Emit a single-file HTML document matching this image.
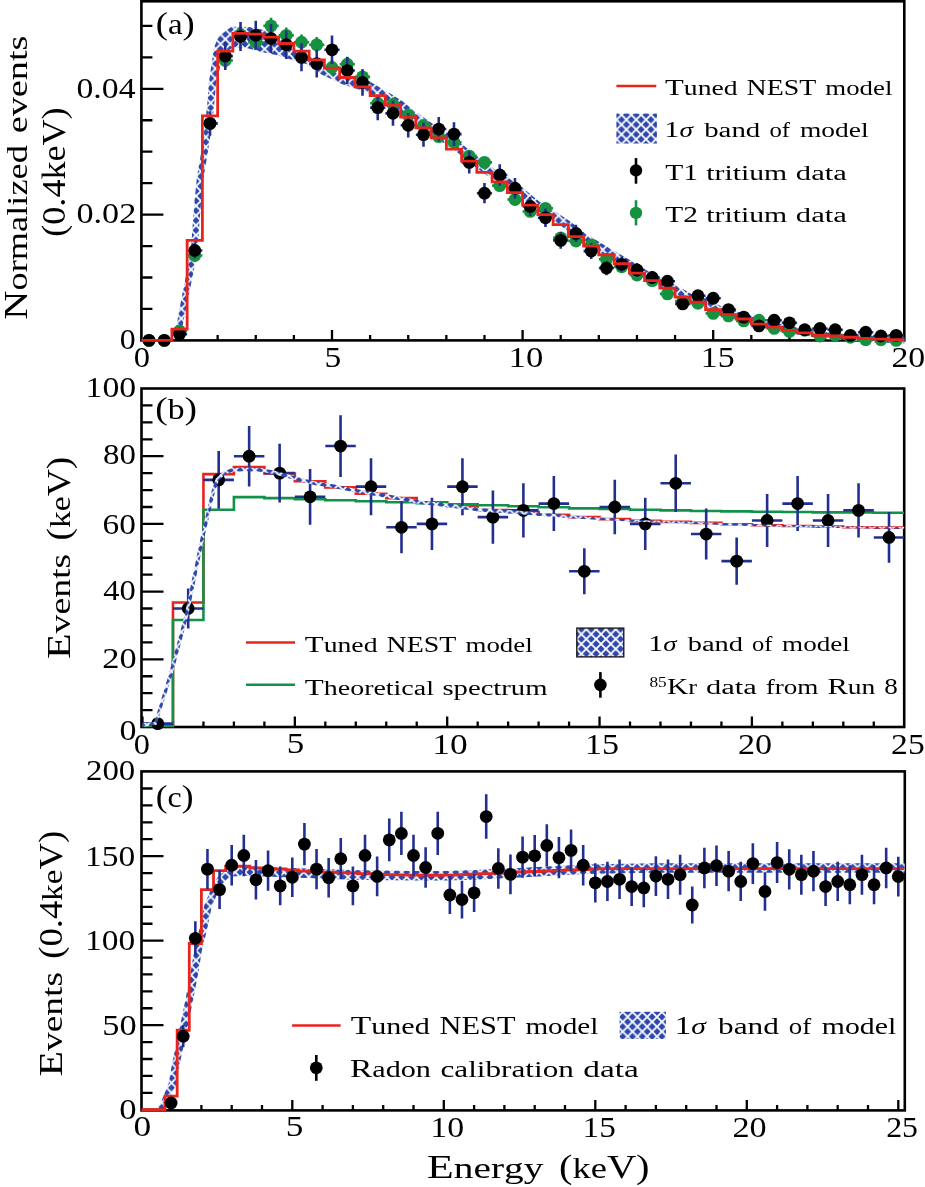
<!DOCTYPE html><html><head><meta charset="utf-8"><style>html,body{margin:0;padding:0;background:#fff;}svg{display:block;}text{font-family:"Liberation Serif", serif;font-kerning:none;fill:#000;}svg{will-change:transform;}</style></head><body>
<svg width="925" height="1187" viewBox="0 0 925 1187">
<defs>
<pattern id="hatch" patternUnits="userSpaceOnUse" width="9.8" height="9.8"><rect width="9.8" height="9.8" fill="#2d47ad"/><path d="M-4.9,-4.9 L14.7,14.7 M-4.9,14.7 L14.7,-4.9" stroke="#fff" stroke-width="1.8"/></pattern>
<pattern id="hatchA" patternUnits="userSpaceOnUse" width="9.8" height="9.8" patternTransform="translate(4.10,7.00)"><rect width="9.8" height="9.8" fill="#2d47ad"/><path d="M-4.9,-4.9 L14.7,14.7 M-4.9,14.7 L14.7,-4.9" stroke="#fff" stroke-width="1.8"/></pattern>
<pattern id="hatchB" patternUnits="userSpaceOnUse" width="9.8" height="9.8" patternTransform="translate(8.10,2.10)"><rect width="9.8" height="9.8" fill="#2d47ad"/><path d="M-4.9,-4.9 L14.7,14.7 M-4.9,14.7 L14.7,-4.9" stroke="#fff" stroke-width="1.8"/></pattern>
<pattern id="hatchC" patternUnits="userSpaceOnUse" width="9.8" height="9.8" patternTransform="translate(5.30,2.60)"><rect width="9.8" height="9.8" fill="#2d47ad"/><path d="M-4.9,-4.9 L14.7,14.7 M-4.9,14.7 L14.7,-4.9" stroke="#fff" stroke-width="1.8"/></pattern>
</defs>
<rect width="925" height="1187" fill="#fff"/>
<defs>
<clipPath id="ca"><rect x="141.4" y="-6.7" width="762.9" height="355.1"/></clipPath>
<clipPath id="cb"><rect x="141.5" y="380.5" width="762.7" height="354.5"/></clipPath>
<clipPath id="cc"><rect x="141.5" y="763.4" width="763.3" height="355"/></clipPath>
</defs>
<rect x="141.4" y="1.3" width="762.9" height="339.1" fill="none" stroke="#000" stroke-width="2.6"/>
<path d="M179.52,340.4V334.9M217.64,340.4V334.9M255.76,340.4V334.9M293.88,340.4V334.9M332,340.4V329.9M370.12,340.4V334.9M408.24,340.4V334.9M446.36,340.4V334.9M484.48,340.4V334.9M522.6,340.4V329.9M560.72,340.4V334.9M598.84,340.4V334.9M636.96,340.4V334.9M675.08,340.4V334.9M713.2,340.4V329.9M751.32,340.4V334.9M789.44,340.4V334.9M827.56,340.4V334.9M865.68,340.4V334.9M141.4,308.95H152.4M141.4,277.5H152.4M141.4,246.05H152.4M141.4,214.6H163.4M141.4,183.15H152.4M141.4,151.7H152.4M141.4,120.25H152.4M141.4,88.8H163.4M141.4,57.35H152.4M141.4,25.9H152.4" stroke="#000" stroke-width="2.3" fill="none"/>
<g clip-path="url(#ca)">
<path d="M180.99,336.23 L182.37,326.72 L186.14,308.11 L190.94,284.54 L195.65,260.85 L197.98,244.14 L199.29,225.24 L201.09,201.69 L203.47,178.24 L207.46,154.82 L211.07,131.15 L213.98,107.45 L215.97,84.08 L220.38,65.71 L225.96,52.6 L231.2,48.53 L236.45,47.21 L246.61,47.91 L259.43,51.41 L274.88,54.72 L291.04,59.62 L306.29,63.98 L321.55,74.56 L341.71,83.97 L367.51,92.22 L382.11,100.63 L397.08,109.82 L412.25,121.64 L427.7,132.4 L442.92,142.38 L458.05,153.53 L473.33,165.44 L488.83,176.86 L504.16,186.28 L519.19,196.75 L534.58,209.35 L550.06,218.87 L565.14,228.75 L580.47,240.69 L596.01,250.24 L611.34,259.03 L626.57,267.75 L641.96,277.2 L657.41,284.78 L672.57,292.22 L688.09,301.09 L703.48,306.12 L718.75,313.61 L734.34,318.7 L749.6,323.05 L765,328.06 L780.47,331.2 L795.8,334.3 L811.12,336.77 L826.59,339.25 L841.98,339.83 L857.16,341.02 L872.48,342.23 L887.8,342.84 L903.31,343.47 L910.35,342.18 L909.65,336.62 L903.04,337.07 L888.06,336.44 L872.88,335.8 L857.7,334.49 L842.39,333.16 L827.28,332.49 L812.25,329.94 L797.08,327.38 L781.92,324.18 L766.88,321.03 L751.79,315.98 L736.56,311.52 L721.65,306.54 L706.42,298.94 L691.32,293.9 L676.34,285.17 L661.01,277.51 L645.96,270 L630.86,260.57 L615.58,251.68 L600.42,242.86 L585.46,233.54 L570.3,221.58 L554.88,211.33 L539.87,201.98 L524.76,189.42 L509.29,178.5 L494.13,169.05 L479.13,157.83 L463.92,145.84 L448.55,134.35 L433.28,124.2 L418.23,113.57 L402.9,101.49 L387.38,91.81 L371.48,82.61 L344.29,76.83 L325.45,68.04 L310.51,56.02 L294.96,49.78 L281.12,41.08 L266.57,30.59 L249.39,27.09 L231.55,26.79 L218.8,35.47 L214.04,47.4 L211.62,63.69 L208.83,83.12 L207.02,106.75 L204.33,130.25 L200.94,153.78 L196.93,177.36 L194.51,201.11 L192.71,224.76 L191.42,243.46 L189.15,259.75 L184.46,283.26 L179.86,306.89 L176.43,325.88 L176.01,335.77Z" fill="url(#hatch)"/>
<path d="M141.4,340.4L156.65,340.4M156.65,340.4L171.9,340.4M171.9,330.96L187.14,330.96M187.14,255.48L202.39,255.48M210.02,116.71L210.02,130.08M202.39,123.39L217.64,123.39M225.26,52.9L225.26,68.09M217.64,60.5L232.89,60.5M240.51,26.77L240.51,42.64M232.89,34.71L248.14,34.71M255.76,34.42L255.76,50.09M248.14,42.25L263.38,42.25M271.01,17.85L271.01,33.95M263.38,25.9L278.63,25.9M286.26,27.41L286.26,43.26M278.63,35.33L293.88,35.33M301.5,34.42L301.5,50.09M293.88,42.25L309.13,42.25M316.75,36.97L316.75,52.57M309.13,44.77L324.38,44.77M332,59.91L332,74.91M324.38,67.41L339.62,67.41M347.25,56.73L347.25,71.81M339.62,64.27L354.87,64.27M362.5,69.48L362.5,84.22M354.87,76.85L370.12,76.85M377.74,96.28L377.74,110.26M370.12,103.27L385.37,103.27M392.99,97.55L392.99,111.5M385.37,104.52L400.62,104.52M408.24,108.41L408.24,122.03M400.62,115.22L415.86,115.22M423.49,119.26L423.49,132.56M415.86,125.91L431.11,125.91M431.11,136.6L446.36,136.6M446.36,142.26L461.61,142.26M461.61,156.1L476.86,156.1M476.86,162.39L492.1,162.39M492.1,185.67L507.35,185.67M507.35,199.5L522.6,199.5M522.6,211.45L537.85,211.45M537.85,208.31L553.1,208.31M553.1,237.87L568.34,237.87M568.34,241.02L583.59,241.02M583.59,244.79L598.84,244.79M598.84,259.26L614.09,259.26M614.09,266.81L629.34,266.81M629.34,274.98L644.58,274.98M644.58,280.64L659.83,280.64M659.83,293.85L675.08,293.85M675.08,301.4L690.33,301.4M690.33,303.29L705.58,303.29M705.58,313.35L720.82,313.35M720.82,315.87L736.07,315.87M736.07,320.9L751.32,320.9M751.32,320.27L766.57,320.27M766.57,328.45L781.82,328.45M781.82,331.59L797.06,331.59M797.06,330.34L812.31,330.34M812.31,336L827.56,336M827.56,335.37L842.81,335.37M842.81,337.25L858.06,337.25M858.06,339.77L873.3,339.77M873.3,339.77L888.55,339.77M888.55,340.4L903.8,340.4" stroke="#15913f" stroke-width="2.6" fill="none"/>
<circle cx="149.02" cy="340.4" r="6.4" fill="#15913f"/>
<circle cx="164.27" cy="340.4" r="6.4" fill="#15913f"/>
<circle cx="179.52" cy="330.96" r="6.4" fill="#15913f"/>
<circle cx="194.77" cy="255.48" r="6.4" fill="#15913f"/>
<circle cx="210.02" cy="123.39" r="6.4" fill="#15913f"/>
<circle cx="225.26" cy="60.5" r="6.4" fill="#15913f"/>
<circle cx="240.51" cy="34.71" r="6.4" fill="#15913f"/>
<circle cx="255.76" cy="42.25" r="6.4" fill="#15913f"/>
<circle cx="271.01" cy="25.9" r="6.4" fill="#15913f"/>
<circle cx="286.26" cy="35.33" r="6.4" fill="#15913f"/>
<circle cx="301.5" cy="42.25" r="6.4" fill="#15913f"/>
<circle cx="316.75" cy="44.77" r="6.4" fill="#15913f"/>
<circle cx="332" cy="67.41" r="6.4" fill="#15913f"/>
<circle cx="347.25" cy="64.27" r="6.4" fill="#15913f"/>
<circle cx="362.5" cy="76.85" r="6.4" fill="#15913f"/>
<circle cx="377.74" cy="103.27" r="6.4" fill="#15913f"/>
<circle cx="392.99" cy="104.52" r="6.4" fill="#15913f"/>
<circle cx="408.24" cy="115.22" r="6.4" fill="#15913f"/>
<circle cx="423.49" cy="125.91" r="6.4" fill="#15913f"/>
<circle cx="438.74" cy="136.6" r="6.4" fill="#15913f"/>
<circle cx="453.98" cy="142.26" r="6.4" fill="#15913f"/>
<circle cx="469.23" cy="156.1" r="6.4" fill="#15913f"/>
<circle cx="484.48" cy="162.39" r="6.4" fill="#15913f"/>
<circle cx="499.73" cy="185.67" r="6.4" fill="#15913f"/>
<circle cx="514.98" cy="199.5" r="6.4" fill="#15913f"/>
<circle cx="530.22" cy="211.45" r="6.4" fill="#15913f"/>
<circle cx="545.47" cy="208.31" r="6.4" fill="#15913f"/>
<circle cx="560.72" cy="237.87" r="6.4" fill="#15913f"/>
<circle cx="575.97" cy="241.02" r="6.4" fill="#15913f"/>
<circle cx="591.22" cy="244.79" r="6.4" fill="#15913f"/>
<circle cx="606.46" cy="259.26" r="6.4" fill="#15913f"/>
<circle cx="621.71" cy="266.81" r="6.4" fill="#15913f"/>
<circle cx="636.96" cy="274.98" r="6.4" fill="#15913f"/>
<circle cx="652.21" cy="280.64" r="6.4" fill="#15913f"/>
<circle cx="667.46" cy="293.85" r="6.4" fill="#15913f"/>
<circle cx="682.7" cy="301.4" r="6.4" fill="#15913f"/>
<circle cx="697.95" cy="303.29" r="6.4" fill="#15913f"/>
<circle cx="713.2" cy="313.35" r="6.4" fill="#15913f"/>
<circle cx="728.45" cy="315.87" r="6.4" fill="#15913f"/>
<circle cx="743.7" cy="320.9" r="6.4" fill="#15913f"/>
<circle cx="758.94" cy="320.27" r="6.4" fill="#15913f"/>
<circle cx="774.19" cy="328.45" r="6.4" fill="#15913f"/>
<circle cx="789.44" cy="331.59" r="6.4" fill="#15913f"/>
<circle cx="804.69" cy="330.34" r="6.4" fill="#15913f"/>
<circle cx="819.94" cy="336" r="6.4" fill="#15913f"/>
<circle cx="835.18" cy="335.37" r="6.4" fill="#15913f"/>
<circle cx="850.43" cy="337.25" r="6.4" fill="#15913f"/>
<circle cx="865.68" cy="339.77" r="6.4" fill="#15913f"/>
<circle cx="880.93" cy="339.77" r="6.4" fill="#15913f"/>
<circle cx="896.18" cy="340.4" r="6.4" fill="#15913f"/>
<path d="M141.4,340.4L156.65,340.4M156.65,340.4L171.9,340.4M171.9,334.11L187.14,334.11M194.77,242.56L194.77,258.35M187.14,250.45L202.39,250.45M210.02,111.14L210.02,135.65M202.39,123.39L217.64,123.39M225.26,42.06L225.26,70.12M217.64,56.09L232.89,56.09M240.51,22.09L240.51,51.1M232.89,36.59L248.14,36.59M255.76,20.8L255.76,49.87M248.14,35.33L263.38,35.33M271.01,24.02L271.01,52.94M263.38,38.48L278.63,38.48M286.26,30.46L286.26,59.08M278.63,44.77L293.88,44.77M301.5,43.35L301.5,71.35M293.88,57.35L309.13,57.35M316.75,49.8L316.75,77.48M309.13,63.64L324.38,63.64M332,35.62L332,63.99M324.38,49.8L339.62,49.8M347.25,56.89L347.25,84.23M339.62,70.56L354.87,70.56M362.5,69.15L362.5,95.87M354.87,82.51L370.12,82.51M377.74,94.97L377.74,120.37M370.12,107.67L385.37,107.67M392.99,100.79L392.99,125.87M385.37,113.33L400.62,113.33M408.24,113.08L408.24,137.49M400.62,125.28L415.86,125.28M423.49,122.78L423.49,146.65M415.86,134.72L431.11,134.72M438.74,116.96L438.74,141.15M431.11,129.06L446.36,129.06M453.98,122.13L453.98,146.04M446.36,134.09L461.61,134.09M469.23,151.29L469.23,173.5M461.61,162.39L476.86,162.39M484.48,183.12L484.48,203.31M476.86,193.21L492.1,193.21M499.73,164.27L499.73,185.68M492.1,174.97L507.35,174.97M514.98,177.91L514.98,198.45M507.35,188.18L522.6,188.18M530.22,196.79L530.22,216.06M522.6,206.42L537.85,206.42M545.47,208.53L545.47,226.96M537.85,217.74L553.1,217.74M560.72,232.07L560.72,248.71M553.1,240.39L568.34,240.39M575.97,224.86L575.97,242.08M568.34,233.47L583.59,233.47M591.22,243.22L591.22,258.95M583.59,251.08L598.84,251.08M606.46,260.99L606.46,275.14M598.84,268.06L614.09,268.06M621.71,257.03L621.71,271.55M614.09,264.29L629.34,264.29M636.96,262.97L636.96,276.94M629.34,269.95L644.58,269.95M652.21,270.9L652.21,284.1M644.58,277.5L659.83,277.5M659.83,281.27L675.08,281.27M675.08,303.92L690.33,303.92M690.33,295.74L705.58,295.74M705.58,298.26L720.82,298.26M720.82,309.58L736.07,309.58M736.07,317.13L751.32,317.13M751.32,325.93L766.57,325.93M766.57,320.27L781.82,320.27M781.82,322.79L797.06,322.79M797.06,329.71L812.31,329.71M812.31,328.45L827.56,328.45M827.56,329.71L842.81,329.71M842.81,335.37L858.06,335.37M858.06,332.22L873.3,332.22M873.3,336L888.55,336M888.55,335.37L903.8,335.37" stroke="#232f8e" stroke-width="2.6" fill="none"/>
<circle cx="149.02" cy="340.4" r="6.4" fill="#000"/>
<circle cx="164.27" cy="340.4" r="6.4" fill="#000"/>
<circle cx="179.52" cy="334.11" r="6.4" fill="#000"/>
<circle cx="194.77" cy="250.45" r="6.4" fill="#000"/>
<circle cx="210.02" cy="123.39" r="6.4" fill="#000"/>
<circle cx="225.26" cy="56.09" r="6.4" fill="#000"/>
<circle cx="240.51" cy="36.59" r="6.4" fill="#000"/>
<circle cx="255.76" cy="35.33" r="6.4" fill="#000"/>
<circle cx="271.01" cy="38.48" r="6.4" fill="#000"/>
<circle cx="286.26" cy="44.77" r="6.4" fill="#000"/>
<circle cx="301.5" cy="57.35" r="6.4" fill="#000"/>
<circle cx="316.75" cy="63.64" r="6.4" fill="#000"/>
<circle cx="332" cy="49.8" r="6.4" fill="#000"/>
<circle cx="347.25" cy="70.56" r="6.4" fill="#000"/>
<circle cx="362.5" cy="82.51" r="6.4" fill="#000"/>
<circle cx="377.74" cy="107.67" r="6.4" fill="#000"/>
<circle cx="392.99" cy="113.33" r="6.4" fill="#000"/>
<circle cx="408.24" cy="125.28" r="6.4" fill="#000"/>
<circle cx="423.49" cy="134.72" r="6.4" fill="#000"/>
<circle cx="438.74" cy="129.06" r="6.4" fill="#000"/>
<circle cx="453.98" cy="134.09" r="6.4" fill="#000"/>
<circle cx="469.23" cy="162.39" r="6.4" fill="#000"/>
<circle cx="484.48" cy="193.21" r="6.4" fill="#000"/>
<circle cx="499.73" cy="174.97" r="6.4" fill="#000"/>
<circle cx="514.98" cy="188.18" r="6.4" fill="#000"/>
<circle cx="530.22" cy="206.42" r="6.4" fill="#000"/>
<circle cx="545.47" cy="217.74" r="6.4" fill="#000"/>
<circle cx="560.72" cy="240.39" r="6.4" fill="#000"/>
<circle cx="575.97" cy="233.47" r="6.4" fill="#000"/>
<circle cx="591.22" cy="251.08" r="6.4" fill="#000"/>
<circle cx="606.46" cy="268.06" r="6.4" fill="#000"/>
<circle cx="621.71" cy="264.29" r="6.4" fill="#000"/>
<circle cx="636.96" cy="269.95" r="6.4" fill="#000"/>
<circle cx="652.21" cy="277.5" r="6.4" fill="#000"/>
<circle cx="667.46" cy="281.27" r="6.4" fill="#000"/>
<circle cx="682.7" cy="303.92" r="6.4" fill="#000"/>
<circle cx="697.95" cy="295.74" r="6.4" fill="#000"/>
<circle cx="713.2" cy="298.26" r="6.4" fill="#000"/>
<circle cx="728.45" cy="309.58" r="6.4" fill="#000"/>
<circle cx="743.7" cy="317.13" r="6.4" fill="#000"/>
<circle cx="758.94" cy="325.93" r="6.4" fill="#000"/>
<circle cx="774.19" cy="320.27" r="6.4" fill="#000"/>
<circle cx="789.44" cy="322.79" r="6.4" fill="#000"/>
<circle cx="804.69" cy="329.71" r="6.4" fill="#000"/>
<circle cx="819.94" cy="328.45" r="6.4" fill="#000"/>
<circle cx="835.18" cy="329.71" r="6.4" fill="#000"/>
<circle cx="850.43" cy="335.37" r="6.4" fill="#000"/>
<circle cx="865.68" cy="332.22" r="6.4" fill="#000"/>
<circle cx="880.93" cy="336" r="6.4" fill="#000"/>
<circle cx="896.18" cy="335.37" r="6.4" fill="#000"/>
<path d="M141.4,340.4 L156.65,340.4 L156.65,340.4 L171.9,340.4 L171.9,329.08 L187.14,329.08 L187.14,240.39 L202.39,240.39 L202.39,115.85 L217.64,115.85 L217.64,51.06 L232.89,51.06 L232.89,33.45 L248.14,33.45 L248.14,34.08 L263.38,34.08 L263.38,37.22 L278.63,37.22 L278.63,43.51 L293.88,43.51 L293.88,51.06 L309.13,51.06 L309.13,59.87 L324.38,59.87 L324.38,68.04 L339.62,68.04 L339.62,77.48 L354.87,77.48 L354.87,86.91 L370.12,86.91 L370.12,95.72 L385.37,95.72 L385.37,105.15 L400.62,105.15 L400.62,117.1 L415.86,117.1 L415.86,127.8 L431.11,127.8 L431.11,137.86 L446.36,137.86 L446.36,149.18 L461.61,149.18 L461.61,161.13 L476.86,161.13 L476.86,172.46 L492.1,172.46 L492.1,181.89 L507.35,181.89 L507.35,192.58 L522.6,192.58 L522.6,205.16 L537.85,205.16 L537.85,214.6 L553.1,214.6 L553.1,224.66 L568.34,224.66 L568.34,236.61 L583.59,236.61 L583.59,246.05 L598.84,246.05 L598.84,254.86 L614.09,254.86 L614.09,263.66 L629.34,263.66 L629.34,273.1 L644.58,273.1 L644.58,280.64 L659.83,280.64 L659.83,288.19 L675.08,288.19 L675.08,297 L690.33,297 L690.33,302.03 L705.58,302.03 L705.58,309.58 L720.82,309.58 L720.82,314.61 L736.07,314.61 L736.07,319.01 L751.32,319.01 L751.32,324.05 L766.57,324.05 L766.57,327.19 L781.82,327.19 L781.82,330.34 L797.06,330.34 L797.06,332.85 L812.31,332.85 L812.31,335.37 L827.56,335.37 L827.56,336 L842.81,336 L842.81,337.25 L858.06,337.25 L858.06,338.51 L873.3,338.51 L873.3,339.14 L888.55,339.14 L888.55,339.77 L903.8,339.77" stroke="#e8241e" stroke-width="2.8" fill="none" stroke-linejoin="miter"/>
</g>
<rect x="141.5" y="388.5" width="762.7" height="338.5" fill="none" stroke="#000" stroke-width="2.6"/>
<path d="M142.5,727V716.5M172.97,727V721.5M203.44,727V721.5M233.91,727V721.5M264.38,727V721.5M294.85,727V716.5M325.32,727V721.5M355.79,727V721.5M386.26,727V721.5M416.73,727V721.5M447.2,727V716.5M477.67,727V721.5M508.14,727V721.5M538.61,727V721.5M569.08,727V721.5M599.55,727V716.5M630.02,727V721.5M660.49,727V721.5M690.96,727V721.5M721.43,727V721.5M751.9,727V716.5M782.37,727V721.5M812.84,727V721.5M843.31,727V721.5M873.78,727V721.5M141.5,710.08H152.5M141.5,693.15H152.5M141.5,676.23H152.5M141.5,659.3H163.5M141.5,642.38H152.5M141.5,625.45H152.5M141.5,608.52H152.5M141.5,591.6H163.5M141.5,574.67H152.5M141.5,557.75H152.5M141.5,540.83H152.5M141.5,523.9H163.5M141.5,506.98H152.5M141.5,490.05H152.5M141.5,473.12H152.5M141.5,456.2H163.5M141.5,439.28H152.5M141.5,422.35H152.5M141.5,405.43H152.5" stroke="#000" stroke-width="2.3" fill="none"/>
<g clip-path="url(#cb)">
<path d="M142.5,725.31 L172.97,725.31 L172.97,602.43 L203.44,602.43 L203.44,474.14 L233.91,474.14 L233.91,467.03 L264.38,467.03 L264.38,473.46 L294.85,473.46 L294.85,481.25 L325.32,481.25 L325.32,487.34 L355.79,487.34 L355.79,493.77 L386.26,493.77 L386.26,498.17 L416.73,498.17 L416.73,502.24 L447.2,502.24 L447.2,506.3 L477.67,506.3 L477.67,510.02 L508.14,510.02 L508.14,512.05 L538.61,512.05 L538.61,514.76 L569.08,514.76 L569.08,517.13 L599.55,517.13 L599.55,519.16 L630.02,519.16 L630.02,520.85 L660.49,520.85 L660.49,521.87 L690.96,521.87 L690.96,522.88 L721.43,522.88 L721.43,524.24 L751.9,524.24 L751.9,525.25 L782.37,525.25 L782.37,525.93 L812.84,525.93 L812.84,526.61 L843.31,526.61 L843.31,527.29 L873.78,527.29 L873.78,527.62 L904.25,527.62" stroke="#e8241e" stroke-width="2.6" fill="none" stroke-linejoin="miter"/>
<path d="M142.5,725.98 L172.97,725.98 L172.97,620.03 L203.44,620.03 L203.44,509.68 L233.91,509.68 L233.91,497.16 L264.38,497.16 L264.38,498.17 L294.85,498.17 L294.85,499.19 L325.32,499.19 L325.32,500.21 L355.79,500.21 L355.79,501.22 L386.26,501.22 L386.26,502.24 L416.73,502.24 L416.73,503.25 L447.2,503.25 L447.2,504.27 L477.67,504.27 L477.67,505.28 L508.14,505.28 L508.14,506.3 L538.61,506.3 L538.61,507.31 L569.08,507.31 L569.08,508.33 L599.55,508.33 L599.55,509.01 L630.02,509.01 L630.02,509.68 L660.49,509.68 L660.49,510.36 L690.96,510.36 L690.96,511.04 L721.43,511.04 L721.43,511.38 L751.9,511.38 L751.9,511.71 L782.37,511.71 L782.37,512.05 L812.84,512.05 L812.84,512.39 L843.31,512.39 L843.31,512.56 L873.78,512.56 L873.78,512.73 L904.25,512.73" stroke="#12914a" stroke-width="2.6" fill="none" stroke-linejoin="miter"/>
<path d="M157.74,720.23L157.74,727M142.5,723.62L172.97,723.62M188.2,588.5L188.2,628.55M172.97,608.52L203.44,608.52M218.68,450.97L218.68,508.82M203.44,479.89L233.91,479.89M249.14,425.92L249.14,486.48M233.91,456.2L264.38,456.2M279.62,443.81L279.62,502.44M264.38,473.12L294.85,473.12M310.08,468.91L310.08,524.73M294.85,496.82L325.32,496.82M340.56,415.21L340.56,476.88M325.32,446.05L355.79,446.05M371.02,458.14L371.02,515.19M355.79,486.67L386.26,486.67M401.5,501.28L401.5,553.29M386.26,527.29L416.73,527.29M431.96,497.68L431.96,550.12M416.73,523.9L447.2,523.9M462.44,458.14L462.44,515.19M447.2,486.67L477.67,486.67M492.9,490.48L492.9,543.78M477.67,517.13L508.14,517.13M523.38,483.28L523.38,537.44M508.14,510.36L538.61,510.36M553.85,476.09L553.85,531.09M538.61,503.59L569.08,503.59M584.32,548.33L584.32,594.25M569.08,571.29L599.55,571.29M614.78,479.68L614.78,534.27M599.55,506.98L630.02,506.98M645.25,497.68L645.25,550.12M630.02,523.9L660.49,523.9M675.73,454.56L675.73,512M660.49,483.28L690.96,483.28M706.19,508.5L706.19,559.61M690.96,534.06L721.43,534.06M736.66,537.44L736.66,584.83M721.43,561.13L751.9,561.13M767.13,494.08L767.13,546.95M751.9,520.51L782.37,520.51M797.61,476.09L797.61,531.09M782.37,503.59L812.84,503.59M828.07,494.08L828.07,546.95M812.84,520.51L843.31,520.51M858.54,483.28L858.54,537.44M843.31,510.36L873.78,510.36M889.01,512.11L889.01,562.77M873.78,537.44L904.25,537.44" stroke="#232f8e" stroke-width="2.6" fill="none"/>
<circle cx="157.74" cy="723.62" r="6.4" fill="#000"/>
<circle cx="188.2" cy="608.52" r="6.4" fill="#000"/>
<circle cx="218.68" cy="479.89" r="6.4" fill="#000"/>
<circle cx="249.14" cy="456.2" r="6.4" fill="#000"/>
<circle cx="279.62" cy="473.12" r="6.4" fill="#000"/>
<circle cx="310.08" cy="496.82" r="6.4" fill="#000"/>
<circle cx="340.56" cy="446.05" r="6.4" fill="#000"/>
<circle cx="371.02" cy="486.67" r="6.4" fill="#000"/>
<circle cx="401.5" cy="527.29" r="6.4" fill="#000"/>
<circle cx="431.96" cy="523.9" r="6.4" fill="#000"/>
<circle cx="462.44" cy="486.67" r="6.4" fill="#000"/>
<circle cx="492.9" cy="517.13" r="6.4" fill="#000"/>
<circle cx="523.38" cy="510.36" r="6.4" fill="#000"/>
<circle cx="553.85" cy="503.59" r="6.4" fill="#000"/>
<circle cx="584.32" cy="571.29" r="6.4" fill="#000"/>
<circle cx="614.78" cy="506.98" r="6.4" fill="#000"/>
<circle cx="645.25" cy="523.9" r="6.4" fill="#000"/>
<circle cx="675.73" cy="483.28" r="6.4" fill="#000"/>
<circle cx="706.19" cy="534.06" r="6.4" fill="#000"/>
<circle cx="736.66" cy="561.13" r="6.4" fill="#000"/>
<circle cx="767.13" cy="520.51" r="6.4" fill="#000"/>
<circle cx="797.61" cy="503.59" r="6.4" fill="#000"/>
<circle cx="828.07" cy="520.51" r="6.4" fill="#000"/>
<circle cx="858.54" cy="510.36" r="6.4" fill="#000"/>
<circle cx="889.01" cy="537.44" r="6.4" fill="#000"/>
<path d="M142.69,726.76 L156.44,725.01 L172.87,673.34 L188.43,614.69 L204.28,537.49 L214.92,492.24 L218.96,480.2 L225.38,474.33 L232.74,471.84 L242.79,471.2 L258.12,471.53 L272.23,473.87 L287.67,477.91 L303.24,482.32 L316.46,485.39 L331.11,487.42 L360.64,493.51 L390.51,498.59 L419.51,504.02 L450.02,507.41 L480.53,511.81 L514.1,513.81 L544.57,516.32 L575.08,518.49 L605.57,520.32 L636.07,521.81 L666.55,522.77 L697.02,523.78 L727.49,525.14 L757.97,526.15 L788.44,526.83 L818.91,527.51 L849.39,528.18 L879.87,528.52 L919.48,528.86 L919.49,527.06 L879.88,526.72 L849.42,526.39 L818.95,525.71 L788.48,525.03 L758.02,524.35 L727.56,523.34 L697.09,521.99 L666.61,520.97 L636.16,519.89 L605.71,518 L575.27,515.77 L544.83,513.21 L514.37,510.3 L480.9,508.23 L450.48,503.84 L420.04,500.46 L391.15,495.05 L361.3,489.97 L331.72,483.88 L317.12,481.85 L304.14,478.83 L288.62,474.43 L272.98,470.35 L258.45,467.95 L242.71,467.6 L232.03,468.31 L223.55,471.24 L215.95,478.23 L211.46,491.25 L200.77,536.71 L184.93,613.87 L169.41,672.34 L154.16,722.22 L142.31,723.18Z" fill="url(#hatch)"/>
</g>
<rect x="141.5" y="771.4" width="763.3" height="339" fill="none" stroke="#000" stroke-width="2.6"/>
<path d="M171.1,1110.4V1104.9M201.4,1110.4V1104.9M231.7,1110.4V1104.9M262,1110.4V1104.9M292.3,1110.4V1099.9M322.6,1110.4V1104.9M352.9,1110.4V1104.9M383.2,1110.4V1104.9M413.5,1110.4V1104.9M443.8,1110.4V1099.9M474.1,1110.4V1104.9M504.4,1110.4V1104.9M534.7,1110.4V1104.9M565,1110.4V1104.9M595.3,1110.4V1099.9M625.6,1110.4V1104.9M655.9,1110.4V1104.9M686.2,1110.4V1104.9M716.5,1110.4V1104.9M746.8,1110.4V1099.9M777.1,1110.4V1104.9M807.4,1110.4V1104.9M837.7,1110.4V1104.9M868,1110.4V1104.9M898.3,1110.4V1099.9M141.5,1109.7H163.5M141.5,1092.8H152.5M141.5,1075.89H152.5M141.5,1058.99H152.5M141.5,1042.08H152.5M141.5,1025.17H163.5M141.5,1008.27H152.5M141.5,991.37H152.5M141.5,974.46H152.5M141.5,957.56H152.5M141.5,940.65H163.5M141.5,923.75H152.5M141.5,906.84H152.5M141.5,889.94H152.5M141.5,873.03H152.5M141.5,856.12H163.5M141.5,839.22H152.5M141.5,822.32H152.5M141.5,805.41H152.5M141.5,788.51H152.5" stroke="#000" stroke-width="2.3" fill="none"/>
<g clip-path="url(#cc)">
<path d="M160.11,1110.58 L164.63,1108.86 L175.94,1085.46 L179.98,1062.76 L184.82,1040.5 L189.37,1018.16 L193.92,995.82 L198.17,973.43 L201.79,951.04 L207.23,928.8 L211.69,906.79 L218.12,891.82 L224.51,881.6 L232.13,876.48 L243.97,875.63 L292.12,877.49 L352.78,879.69 L413.47,880.53 L443.87,880.53 L474.28,879.69 L519.79,877.49 L565.23,875.12 L595.45,873.77 L655.94,872.76 L913.45,872.76 L913.45,863.16 L655.86,863.16 L595.15,864.18 L564.77,865.53 L519.31,867.9 L473.92,870.09 L443.73,870.94 L413.53,870.93 L353.02,870.09 L292.48,867.9 L243.67,866.03 L228.85,867.89 L218.29,875.95 L211.34,888.39 L204.44,904.52 L199.81,927.14 L194.34,949.53 L190.69,972.11 L186.46,994.35 L181.92,1016.64 L177.38,1038.93 L172.52,1061.29 L168.68,1083.23 L160,1104.45 L157.85,1106.12Z" fill="url(#hatch)"/>
<path d="M140.8,1109.7 L152.92,1109.7 L152.92,1109.7 L165.04,1109.7 L165.04,1096.18 L177.16,1096.18 L177.16,1030.25 L189.28,1030.25 L189.28,943.52 L201.4,943.52 L201.4,889.6 L213.52,889.6 L213.52,870.66 L225.64,870.66 L225.64,866.27 L237.76,866.27 L237.76,866.27 L249.88,866.27 L249.88,867.96 L262,867.96 L262,868.63 L274.12,868.63 L274.12,869.14 L286.24,869.14 L286.24,869.99 L298.36,869.99 L298.36,871.17 L310.48,871.17 L310.48,871.68 L322.6,871.68 L322.6,872.18 L334.72,872.18 L334.72,872.69 L346.84,872.69 L346.84,873.2 L358.96,873.2 L358.96,873.71 L371.08,873.71 L371.08,874.21 L383.2,874.21 L383.2,874.55 L395.32,874.55 L395.32,874.89 L407.44,874.89 L407.44,875.06 L419.56,875.06 L419.56,875.23 L431.68,875.23 L431.68,875.23 L443.8,875.23 L443.8,875.06 L455.92,875.06 L455.92,874.55 L468.04,874.55 L468.04,874.04 L480.16,874.04 L480.16,873.54 L492.28,873.54 L492.28,873.03 L504.4,873.03 L504.4,872.52 L516.52,872.52 L516.52,872.02 L528.64,872.02 L528.64,871.51 L540.76,871.51 L540.76,871 L552.88,871 L552.88,870.49 L565,870.49 L565,869.99 L577.12,869.99 L577.12,869.48 L589.24,869.48 L589.24,868.97 L601.36,868.97 L601.36,868.63 L613.48,868.63 L613.48,868.63 L625.6,868.63 L625.6,868.63 L637.72,868.63 L637.72,868.63 L649.84,868.63 L649.84,868.63 L661.96,868.63 L661.96,868.63 L674.08,868.63 L674.08,868.63 L686.2,868.63 L686.2,868.63 L698.32,868.63 L698.32,868.63 L710.44,868.63 L710.44,868.63 L722.56,868.63 L722.56,868.63 L734.68,868.63 L734.68,868.63 L746.8,868.63 L746.8,868.63 L758.92,868.63 L758.92,868.63 L771.04,868.63 L771.04,868.63 L783.16,868.63 L783.16,868.63 L795.28,868.63 L795.28,868.63 L807.4,868.63 L807.4,868.63 L819.52,868.63 L819.52,868.63 L831.64,868.63 L831.64,868.63 L843.76,868.63 L843.76,868.63 L855.88,868.63 L855.88,868.63 L868,868.63 L868,868.63 L880.12,868.63 L880.12,868.63 L892.24,868.63 L892.24,868.63 L904.36,868.63" stroke="#e8241e" stroke-width="2.8" fill="none" stroke-linejoin="miter"/>
<path d="M171.1,1099.56L171.1,1106.32M183.22,1025.01L183.22,1047.31M195.34,921.26L195.34,955.31M207.46,848.98L207.46,889.31M219.58,870.31L219.58,908.89M231.7,844.93L231.7,885.58M243.82,834.72L243.82,876.18M255.94,860.08L255.94,899.51M268.06,850.56L268.06,890.77M280.18,866.43L280.18,905.33M292.3,857.43L292.3,897.08M304.42,822.93L304.42,865.31M316.54,848.98L316.54,889.31M328.66,857.96L328.66,897.56M340.78,838.06L340.78,879.26M352.9,866.43L352.9,905.33M365.02,834.72L365.02,876.18M377.14,856.55L377.14,896.27M389.26,818.54L389.26,861.25M401.38,811.86L401.38,855.08M413.5,834.72L413.5,876.18M425.62,847.21L425.62,887.69M437.74,811.69L437.74,854.92M449.86,875.96L449.86,914.06M461.98,880.72L461.98,918.42M474.1,873.66L474.1,911.96M486.22,794.31L486.22,838.83M498.34,848.27L498.34,888.66M510.46,854.44L510.46,894.33M522.58,836.48L522.58,877.8M534.7,835.07L534.7,876.51M546.82,824.34L546.82,866.61M558.94,837L558.94,878.29M571.06,829.44L571.06,871.31M583.18,844.93L583.18,885.58M595.3,863.25L595.3,902.42M607.42,861.84L607.42,901.12M619.54,859.55L619.54,899.02M631.66,867.13L631.66,905.98M643.78,868.54L643.78,907.27M655.9,856.2L655.9,895.95M668.02,859.55L668.02,899.02M680.14,854.79L680.14,894.65M692.26,886.38L692.26,923.58M704.38,847.74L704.38,888.17M716.5,845.45L716.5,886.07M728.62,851.09L728.62,891.25M740.74,861.84L740.74,901.12M752.86,843.16L752.86,883.96M764.98,872.25L764.98,910.66M777.1,842.11L777.1,882.99M789.22,849.15L789.22,889.47M801.34,854.79L801.34,894.65M813.46,851.09L813.46,891.25M825.58,867.13L825.58,905.98M837.7,861.84L837.7,901.12M849.82,865.19L849.82,904.2M861.94,854.79L861.94,894.65M874.06,865.19L874.06,904.2M886.18,847.74L886.18,888.17M898.3,856.73L898.3,896.43" stroke="#232f8e" stroke-width="2.6" fill="none"/>
<circle cx="171.1" cy="1102.94" r="6.4" fill="#000"/>
<circle cx="183.22" cy="1036.16" r="6.4" fill="#000"/>
<circle cx="195.34" cy="938.28" r="6.4" fill="#000"/>
<circle cx="207.46" cy="869.14" r="6.4" fill="#000"/>
<circle cx="219.58" cy="889.6" r="6.4" fill="#000"/>
<circle cx="231.7" cy="865.25" r="6.4" fill="#000"/>
<circle cx="243.82" cy="855.45" r="6.4" fill="#000"/>
<circle cx="255.94" cy="879.79" r="6.4" fill="#000"/>
<circle cx="268.06" cy="870.66" r="6.4" fill="#000"/>
<circle cx="280.18" cy="885.88" r="6.4" fill="#000"/>
<circle cx="292.3" cy="877.26" r="6.4" fill="#000"/>
<circle cx="304.42" cy="844.12" r="6.4" fill="#000"/>
<circle cx="316.54" cy="869.14" r="6.4" fill="#000"/>
<circle cx="328.66" cy="877.76" r="6.4" fill="#000"/>
<circle cx="340.78" cy="858.66" r="6.4" fill="#000"/>
<circle cx="352.9" cy="885.88" r="6.4" fill="#000"/>
<circle cx="365.02" cy="855.45" r="6.4" fill="#000"/>
<circle cx="377.14" cy="876.41" r="6.4" fill="#000"/>
<circle cx="389.26" cy="839.9" r="6.4" fill="#000"/>
<circle cx="401.38" cy="833.47" r="6.4" fill="#000"/>
<circle cx="413.5" cy="855.45" r="6.4" fill="#000"/>
<circle cx="425.62" cy="867.45" r="6.4" fill="#000"/>
<circle cx="437.74" cy="833.3" r="6.4" fill="#000"/>
<circle cx="449.86" cy="895.01" r="6.4" fill="#000"/>
<circle cx="461.98" cy="899.57" r="6.4" fill="#000"/>
<circle cx="474.1" cy="892.81" r="6.4" fill="#000"/>
<circle cx="486.22" cy="816.57" r="6.4" fill="#000"/>
<circle cx="498.34" cy="868.47" r="6.4" fill="#000"/>
<circle cx="510.46" cy="874.38" r="6.4" fill="#000"/>
<circle cx="522.58" cy="857.14" r="6.4" fill="#000"/>
<circle cx="534.7" cy="855.79" r="6.4" fill="#000"/>
<circle cx="546.82" cy="845.47" r="6.4" fill="#000"/>
<circle cx="558.94" cy="857.65" r="6.4" fill="#000"/>
<circle cx="571.06" cy="850.38" r="6.4" fill="#000"/>
<circle cx="583.18" cy="865.25" r="6.4" fill="#000"/>
<circle cx="595.3" cy="882.83" r="6.4" fill="#000"/>
<circle cx="607.42" cy="881.48" r="6.4" fill="#000"/>
<circle cx="619.54" cy="879.28" r="6.4" fill="#000"/>
<circle cx="631.66" cy="886.55" r="6.4" fill="#000"/>
<circle cx="643.78" cy="887.91" r="6.4" fill="#000"/>
<circle cx="655.9" cy="876.07" r="6.4" fill="#000"/>
<circle cx="668.02" cy="879.28" r="6.4" fill="#000"/>
<circle cx="680.14" cy="874.72" r="6.4" fill="#000"/>
<circle cx="692.26" cy="904.98" r="6.4" fill="#000"/>
<circle cx="704.38" cy="867.96" r="6.4" fill="#000"/>
<circle cx="716.5" cy="865.76" r="6.4" fill="#000"/>
<circle cx="728.62" cy="871.17" r="6.4" fill="#000"/>
<circle cx="740.74" cy="881.48" r="6.4" fill="#000"/>
<circle cx="752.86" cy="863.56" r="6.4" fill="#000"/>
<circle cx="764.98" cy="891.46" r="6.4" fill="#000"/>
<circle cx="777.1" cy="862.55" r="6.4" fill="#000"/>
<circle cx="789.22" cy="869.31" r="6.4" fill="#000"/>
<circle cx="801.34" cy="874.72" r="6.4" fill="#000"/>
<circle cx="813.46" cy="871.17" r="6.4" fill="#000"/>
<circle cx="825.58" cy="886.55" r="6.4" fill="#000"/>
<circle cx="837.7" cy="881.48" r="6.4" fill="#000"/>
<circle cx="849.82" cy="884.69" r="6.4" fill="#000"/>
<circle cx="861.94" cy="874.72" r="6.4" fill="#000"/>
<circle cx="874.06" cy="884.69" r="6.4" fill="#000"/>
<circle cx="886.18" cy="867.96" r="6.4" fill="#000"/>
<circle cx="898.3" cy="876.58" r="6.4" fill="#000"/>
</g>
<line x1="616.4" y1="86" x2="656.3" y2="86" stroke="#e8241e" stroke-width="2.6"/>
<text x="665.04" y="95.3" font-size="24" textLength="72.51" lengthAdjust="spacingAndGlyphs"><tspan>T</tspan><tspan font-size="21.6">uned</tspan></text>
<text x="746.57" y="95.3" font-size="24" textLength="69.66" lengthAdjust="spacingAndGlyphs"><tspan>NEST</tspan></text>
<text x="825.36" y="95.3" font-size="24" textLength="66.98" lengthAdjust="spacingAndGlyphs"><tspan font-size="21.6">model</tspan></text>
<rect x="616.4" y="113.6" width="40.5" height="29.9" fill="url(#hatchA)"/>
<text x="664.34" y="136.8" font-size="24" textLength="28.56" lengthAdjust="spacingAndGlyphs"><tspan>1</tspan><tspan font-style="italic" font-size="21.6">σ</tspan></text>
<text x="704.18" y="136.8" font-size="24" textLength="56.11" lengthAdjust="spacingAndGlyphs"><tspan font-size="21.6">band</tspan></text>
<text x="769.4" y="136.8" font-size="24" textLength="20.68" lengthAdjust="spacingAndGlyphs"><tspan font-size="21.6">of</tspan></text>
<text x="799.91" y="136.8" font-size="24" textLength="68.64" lengthAdjust="spacingAndGlyphs"><tspan font-size="21.6">model</tspan></text>
<path d="M636,158.1L636,183.7" stroke="#000" stroke-width="2.6" fill="none"/>
<circle cx="636" cy="170.4" r="6.2" fill="#000"/>
<text x="665.27" y="179.8" font-size="24" textLength="32.78" lengthAdjust="spacingAndGlyphs"><tspan>T1</tspan></text>
<text x="706.3" y="179.8" font-size="24" textLength="80.84" lengthAdjust="spacingAndGlyphs"><tspan font-size="21.6">tritium</tspan></text>
<text x="795.88" y="179.8" font-size="24" textLength="50.94" lengthAdjust="spacingAndGlyphs"><tspan font-size="21.6">data</tspan></text>
<path d="M636,200.2L636,225.4" stroke="#15913f" stroke-width="2.6" fill="none"/>
<circle cx="636" cy="212.9" r="6.2" fill="#15913f"/>
<text x="665.27" y="222.4" font-size="24" textLength="32.63" lengthAdjust="spacingAndGlyphs"><tspan>T2</tspan></text>
<text x="706.3" y="222.4" font-size="24" textLength="80.84" lengthAdjust="spacingAndGlyphs"><tspan font-size="21.6">tritium</tspan></text>
<text x="795.88" y="222.4" font-size="24" textLength="50.94" lengthAdjust="spacingAndGlyphs"><tspan font-size="21.6">data</tspan></text>
<line x1="246" y1="642.5" x2="295" y2="642.5" stroke="#e8241e" stroke-width="2.6"/>
<text x="304.84" y="651.6" font-size="24" textLength="72.67" lengthAdjust="spacingAndGlyphs"><tspan>T</tspan><tspan font-size="21.6">uned</tspan></text>
<text x="386.55" y="651.6" font-size="24" textLength="69.81" lengthAdjust="spacingAndGlyphs"><tspan>NEST</tspan></text>
<text x="465.51" y="651.6" font-size="24" textLength="67.13" lengthAdjust="spacingAndGlyphs"><tspan font-size="21.6">model</tspan></text>
<line x1="246" y1="684.8" x2="295" y2="684.8" stroke="#12914a" stroke-width="2.6"/>
<text x="304.84" y="694.5" font-size="24" textLength="129.06" lengthAdjust="spacingAndGlyphs"><tspan>T</tspan><tspan font-size="21.6">heoretical</tspan></text>
<text x="442.46" y="694.5" font-size="24" textLength="104.98" lengthAdjust="spacingAndGlyphs"><tspan font-size="21.6">spectrum</tspan></text>
<rect x="576.8" y="628.1" width="47" height="28.8" fill="url(#hatchB)" stroke="#111" stroke-width="1.3"/>
<text x="648.38" y="651.3" font-size="24" textLength="28.18" lengthAdjust="spacingAndGlyphs"><tspan>1</tspan><tspan font-style="italic" font-size="21.6">σ</tspan></text>
<text x="687.68" y="651.3" font-size="24" textLength="55.36" lengthAdjust="spacingAndGlyphs"><tspan font-size="21.6">band</tspan></text>
<text x="752.02" y="651.3" font-size="24" textLength="20.4" lengthAdjust="spacingAndGlyphs"><tspan font-size="21.6">of</tspan></text>
<text x="782.12" y="651.3" font-size="24" textLength="67.72" lengthAdjust="spacingAndGlyphs"><tspan font-size="21.6">model</tspan></text>
<path d="M600.4,672.1L600.4,697.7" stroke="#000" stroke-width="2.6" fill="none"/>
<circle cx="600.4" cy="684.9" r="6.3" fill="#000"/>
<text x="649.44" y="687.3" font-size="15.4" textLength="17.23" lengthAdjust="spacingAndGlyphs"><tspan>85</tspan></text>
<text x="667.05" y="694.2" font-size="24" textLength="30.04" lengthAdjust="spacingAndGlyphs"><tspan>K</tspan><tspan font-size="21.6">r</tspan></text>
<text x="706.03" y="694.2" font-size="24" textLength="50.71" lengthAdjust="spacingAndGlyphs"><tspan font-size="21.6">data</tspan></text>
<text x="765.75" y="694.2" font-size="24" textLength="52.7" lengthAdjust="spacingAndGlyphs"><tspan font-size="21.6">from</tspan></text>
<text x="827.41" y="694.2" font-size="24" textLength="47.95" lengthAdjust="spacingAndGlyphs"><tspan>R</tspan><tspan font-size="21.6">un</tspan></text>
<text x="884.18" y="694.2" font-size="24" textLength="13.55" lengthAdjust="spacingAndGlyphs"><tspan>8</tspan></text>
<line x1="292.1" y1="1025.5" x2="340.6" y2="1025.5" stroke="#e8241e" stroke-width="2.6"/>
<text x="350.8" y="1034" font-size="25.5" textLength="78.99" lengthAdjust="spacingAndGlyphs"><tspan>T</tspan><tspan font-size="22.95">uned</tspan></text>
<text x="439.6" y="1034" font-size="25.5" textLength="75.88" lengthAdjust="spacingAndGlyphs"><tspan>NEST</tspan></text>
<text x="525.43" y="1034" font-size="25.5" textLength="72.96" lengthAdjust="spacingAndGlyphs"><tspan font-size="22.95">model</tspan></text>
<rect x="619.6" y="1011.8" width="46.3" height="27.2" fill="url(#hatchC)"/>
<text x="674.82" y="1034.2" font-size="25.5" textLength="30.97" lengthAdjust="spacingAndGlyphs"><tspan>1</tspan><tspan font-style="italic" font-size="22.95">σ</tspan></text>
<text x="718" y="1034.2" font-size="25.5" textLength="60.83" lengthAdjust="spacingAndGlyphs"><tspan font-size="22.95">band</tspan></text>
<text x="788.71" y="1034.2" font-size="25.5" textLength="22.42" lengthAdjust="spacingAndGlyphs"><tspan font-size="22.95">of</tspan></text>
<text x="821.78" y="1034.2" font-size="25.5" textLength="74.41" lengthAdjust="spacingAndGlyphs"><tspan font-size="22.95">model</tspan></text>
<path d="M316.3,1055L316.3,1080.8" stroke="#000" stroke-width="2.6" fill="none"/>
<circle cx="316.3" cy="1067.8" r="6.4" fill="#000"/>
<text x="349.93" y="1077" font-size="25.5" textLength="81.02" lengthAdjust="spacingAndGlyphs"><tspan>R</tspan><tspan font-size="22.95">adon</tspan></text>
<text x="440.54" y="1077" font-size="25.5" textLength="133.29" lengthAdjust="spacingAndGlyphs"><tspan font-size="22.95">calibration</tspan></text>
<text x="583.38" y="1077" font-size="25.5" textLength="55.47" lengthAdjust="spacingAndGlyphs"><tspan font-size="22.95">data</tspan></text>
<text x="155.69" y="33.6" font-size="32" textLength="39.13" lengthAdjust="spacingAndGlyphs"><tspan>(</tspan><tspan font-size="28.8">a</tspan><tspan>)</tspan></text>
<text x="155.25" y="418.5" font-size="32" textLength="41.79" lengthAdjust="spacingAndGlyphs"><tspan>(</tspan><tspan font-size="28.8">b</tspan><tspan>)</tspan></text>
<text x="155.74" y="807.2" font-size="32" textLength="37.71" lengthAdjust="spacingAndGlyphs"><tspan>(</tspan><tspan font-size="28.8">c</tspan><tspan>)</tspan></text>
<text x="76.52" y="98.2" font-size="29.8" textLength="59.01" lengthAdjust="spacingAndGlyphs"><tspan>0.04</tspan></text>
<text x="76.5" y="222.8" font-size="29.8" textLength="59.79" lengthAdjust="spacingAndGlyphs"><tspan>0.02</tspan></text>
<text x="119.89" y="348.9" font-size="29.8" textLength="15.93" lengthAdjust="spacingAndGlyphs"><tspan>0</tspan></text>
<text x="133.86" y="366.7" font-size="29.8" textLength="16.28" lengthAdjust="spacingAndGlyphs"><tspan>0</tspan></text>
<text x="324.55" y="366.7" font-size="29.8" textLength="16.76" lengthAdjust="spacingAndGlyphs"><tspan>5</tspan></text>
<text x="508.55" y="367.4" font-size="29.8" textLength="34.67" lengthAdjust="spacingAndGlyphs"><tspan>10</tspan></text>
<text x="700.83" y="367.4" font-size="29.8" textLength="33.79" lengthAdjust="spacingAndGlyphs"><tspan>15</tspan></text>
<text x="891.41" y="366.9" font-size="29.8" textLength="33.88" lengthAdjust="spacingAndGlyphs"><tspan>20</tspan></text>
<text x="85.53" y="397" font-size="29.8" textLength="50.65" lengthAdjust="spacingAndGlyphs"><tspan>100</tspan></text>
<text x="103.05" y="464.2" font-size="29.8" textLength="32.91" lengthAdjust="spacingAndGlyphs"><tspan>80</tspan></text>
<text x="102.57" y="533.5" font-size="29.8" textLength="33.3" lengthAdjust="spacingAndGlyphs"><tspan>60</tspan></text>
<text x="103.37" y="600.2" font-size="29.8" textLength="32.47" lengthAdjust="spacingAndGlyphs"><tspan>40</tspan></text>
<text x="102.29" y="668.4" font-size="29.8" textLength="34.31" lengthAdjust="spacingAndGlyphs"><tspan>20</tspan></text>
<text x="119.61" y="740.2" font-size="29.8" textLength="16.99" lengthAdjust="spacingAndGlyphs"><tspan>0</tspan></text>
<text x="133.87" y="753.7" font-size="29.8" textLength="16.16" lengthAdjust="spacingAndGlyphs"><tspan>0</tspan></text>
<text x="286.87" y="753" font-size="29.8" textLength="17.5" lengthAdjust="spacingAndGlyphs"><tspan>5</tspan></text>
<text x="432.39" y="753.9" font-size="29.8" textLength="35.35" lengthAdjust="spacingAndGlyphs"><tspan>10</tspan></text>
<text x="584.91" y="753.9" font-size="29.8" textLength="34.02" lengthAdjust="spacingAndGlyphs"><tspan>15</tspan></text>
<text x="738" y="753.7" font-size="29.8" textLength="34.1" lengthAdjust="spacingAndGlyphs"><tspan>20</tspan></text>
<text x="891.12" y="753.7" font-size="29.8" textLength="33.59" lengthAdjust="spacingAndGlyphs"><tspan>25</tspan></text>
<text x="85.96" y="779.5" font-size="29.8" textLength="49.3" lengthAdjust="spacingAndGlyphs"><tspan>200</tspan></text>
<text x="85.06" y="866.2" font-size="29.8" textLength="50.22" lengthAdjust="spacingAndGlyphs"><tspan>150</tspan></text>
<text x="85.06" y="949.8" font-size="29.8" textLength="50.22" lengthAdjust="spacingAndGlyphs"><tspan>100</tspan></text>
<text x="102.31" y="1034.7" font-size="29.8" textLength="34.3" lengthAdjust="spacingAndGlyphs"><tspan>50</tspan></text>
<text x="119.28" y="1118.8" font-size="29.8" textLength="17.34" lengthAdjust="spacingAndGlyphs"><tspan>0</tspan></text>
<text x="133.45" y="1136.4" font-size="29.8" textLength="17.7" lengthAdjust="spacingAndGlyphs"><tspan>0</tspan></text>
<text x="285.85" y="1136.4" font-size="29.8" textLength="17.63" lengthAdjust="spacingAndGlyphs"><tspan>5</tspan></text>
<text x="430.33" y="1136.8" font-size="29.8" textLength="33.75" lengthAdjust="spacingAndGlyphs"><tspan>10</tspan></text>
<text x="582.58" y="1136.9" font-size="29.8" textLength="33.22" lengthAdjust="spacingAndGlyphs"><tspan>15</tspan></text>
<text x="732.5" y="1136.7" font-size="29.8" textLength="34.21" lengthAdjust="spacingAndGlyphs"><tspan>20</tspan></text>
<text x="886.2" y="1136.7" font-size="29.8" textLength="31.84" lengthAdjust="spacingAndGlyphs"><tspan>25</tspan></text>
<text x="427.14" y="1177.8" font-size="33" textLength="116.35" lengthAdjust="spacingAndGlyphs"><tspan>E</tspan><tspan font-size="29.7">nergy</tspan></text>
<text x="559.07" y="1177.8" font-size="33" textLength="90.51" lengthAdjust="spacingAndGlyphs"><tspan>(</tspan><tspan font-size="29.7">ke</tspan><tspan>V)</tspan></text>
<text transform="rotate(-90)" x="-319.76" y="26.6" font-size="33.5" textLength="174.6" lengthAdjust="spacingAndGlyphs"><tspan>N</tspan><tspan font-size="30.15">ormalized</tspan></text>
<text transform="rotate(-90)" x="-133.26" y="26.6" font-size="33.5" textLength="97.75" lengthAdjust="spacingAndGlyphs"><tspan font-size="30.15">events</tspan></text>
<text transform="rotate(-90)" x="-236.68" y="64.9" font-size="33" textLength="129.17" lengthAdjust="spacingAndGlyphs"><tspan>(0.4keV)</tspan></text>
<text transform="rotate(-90)" x="-659.11" y="70" font-size="33" textLength="105.32" lengthAdjust="spacingAndGlyphs"><tspan>E</tspan><tspan font-size="29.7">vents</tspan></text>
<text transform="rotate(-90)" x="-540.56" y="70" font-size="33" textLength="83.91" lengthAdjust="spacingAndGlyphs"><tspan>(</tspan><tspan font-size="29.7">ke</tspan><tspan>V)</tspan></text>
<text transform="rotate(-90)" x="-1076.6" y="61.6" font-size="33" textLength="104.68" lengthAdjust="spacingAndGlyphs"><tspan>E</tspan><tspan font-size="29.7">vents</tspan></text>
<text transform="rotate(-90)" x="-958.74" y="61.6" font-size="33" textLength="127.86" lengthAdjust="spacingAndGlyphs"><tspan>(0.4</tspan><tspan font-size="29.7">ke</tspan><tspan>V)</tspan></text>
</svg></body></html>
